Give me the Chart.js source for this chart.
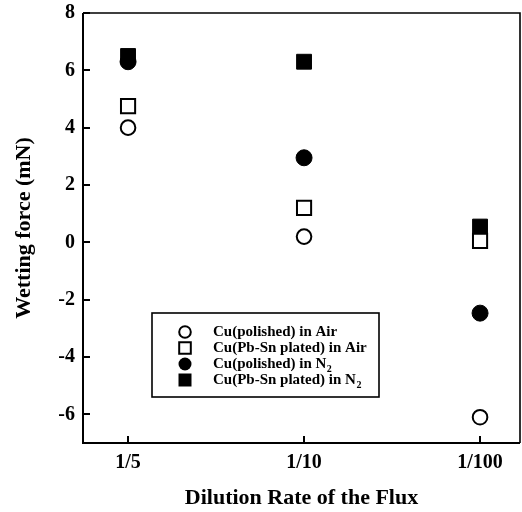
<!DOCTYPE html>
<html><head><meta charset="utf-8">
<script src="https://cdn.jsdelivr.net/npm/chart.js@4/dist/chart.umd.min.js"></script>
<style>html,body{margin:0;padding:0;background:#fff}#wrap{width:522px;height:512px}</style>
</head><body><div id="wrap"><canvas id="c" width="522" height="512"></canvas></div>
<script>
const categories = ['1/5', '1/10', '1/100'];
const yTicks = [8, 6, 4, 2, 0, -2, -4, -6];
const polishedAir = [4.0, 0.2, -6.1];
const platedAir = [4.75, 1.2, 0.05];
const polishedN2 = [6.3, 2.95, -2.47];
const platedN2 = [6.5, 6.3, 0.55];
const seriesLabels = ['Cu(polished) in Air', 'Cu(Pb-Sn plated) in Air', 'Cu(polished) in N\u2082', 'Cu(Pb-Sn plated) in N\u2082'];

const FONT = '"Liberation Serif", "Times New Roman", serif';
const toXY = arr => arr.map((v, i) => ({x: i, y: v}));

const frame = {
  id: 'frame',
  beforeDatasetsDraw(chart) {
    const {ctx, chartArea: a, scales} = chart;
    ctx.save();
    ctx.strokeStyle = '#000';
    ctx.lineWidth = 2;
    ctx.beginPath();
    ctx.moveTo(a.left, a.top); ctx.lineTo(a.left, a.bottom); ctx.lineTo(a.right, a.bottom);
    ctx.stroke();
    ctx.lineWidth = 1.6;
    ctx.beginPath();
    ctx.moveTo(a.left, a.top); ctx.lineTo(a.right, a.top); ctx.lineTo(a.right, a.bottom);
    ctx.stroke();
    ctx.lineWidth = 2;
    ctx.beginPath();
    scales.y.ticks.forEach(t => {
      const p = Math.round(scales.y.getPixelForValue(t.value));
      ctx.moveTo(a.left, p); ctx.lineTo(a.left + 7, p);
    });
    scales.x.ticks.forEach(t => {
      const p = Math.round(scales.x.getPixelForValue(t.value));
      ctx.moveTo(p, a.bottom); ctx.lineTo(p, a.bottom - 7);
    });
    ctx.stroke();
    ctx.restore();
  }
};

const legendBox = {
  id: 'legendBox',
  afterDraw(chart) {
    const {ctx} = chart;
    const L = 152, T = 313, R = 379, B = 397;
    ctx.save();
    ctx.fillStyle = '#fff';
    ctx.fillRect(L, T, R - L, B - T);
    ctx.strokeStyle = '#000';
    ctx.lineWidth = 1.6;
    ctx.strokeRect(L, T, R - L, B - T);
    const rows = [332, 348, 364, 380];
    chart.data.datasets.forEach((ds, i) => {
      const y = rows[i], x = 185;
      ctx.lineWidth = 2;
      ctx.strokeStyle = '#000';
      ctx.fillStyle = '#000';
      ctx.beginPath();
      if (ds.pointStyle === 'circle') {
        ctx.arc(x, y, ds.filled ? 6.5 : 5.8, 0, Math.PI * 2);
      } else {
        const s = ds.filled ? 6.5 : 5.8;
        ctx.rect(x - s, y - s, 2 * s, 2 * s);
      }
      if (ds.filled) ctx.fill(); else ctx.stroke();
      ctx.font = 'bold 15px ' + FONT;
      ctx.textBaseline = 'middle';
      ctx.textAlign = 'left';
      let txt = ds.label;
      let sub = '';
      if (txt.endsWith('\u2082')) { sub = '2'; txt = txt.slice(0, -1); }
      ctx.fillText(txt, 213, y);
      if (sub) {
        const w = ctx.measureText(txt).width;
        ctx.font = 'bold 10px ' + FONT;
        ctx.fillText(sub, 213 + w + 0.5, y + 5);
      }
    });
    ctx.restore();
  }
};

const mk = (label, arr, style, filled, r) => ({
  label, data: toXY(arr), pointStyle: style, filled,
  pointRadius: r, pointHoverRadius: r,
  pointBackgroundColor: filled ? '#000' : '#fff',
  pointBorderColor: '#000', pointBorderWidth: filled ? 1 : 2,
  showLine: false
});

new Chart(document.getElementById('c'), {
  type: 'scatter',
  data: {
    datasets: [
      mk(seriesLabels[0], polishedAir, 'circle', false, 7.3),
      mk(seriesLabels[1], platedAir, 'rect', false, 10),
      mk(seriesLabels[2], polishedN2, 'circle', true, 8),
      mk(seriesLabels[3], platedN2, 'rect', true, 10.5)
    ]
  },
  options: {
    responsive: false,
    animation: false,
    devicePixelRatio: 1,
    layout: {autoPadding: false, padding: {top: 13, right: 2, left: 0, bottom: 0}},
    plugins: {legend: {display: false}, tooltip: {enabled: false}},
    scales: {
      x: {
        type: 'linear', min: -0.256, max: 2.227,
        afterBuildTicks: s => { s.ticks = categories.map((_, i) => ({value: i})); },
        afterFit: s => { s.height = 69; s.paddingLeft = 0; s.paddingRight = 0; },
        grid: {display: false, drawTicks: false},
        border: {display: false},
        ticks: {callback: v => categories[v], color: '#000', font: {family: FONT, size: 20, weight: 'bold'}, padding: 8, maxRotation: 0},
        title: {display: true, text: 'Dilution Rate of the Flux', color: '#000', font: {family: FONT, size: 22, weight: 'bold'}, padding: {top: 0, bottom: 0}}
      },
      y: {
        type: 'linear', min: -7, max: 8,
        afterBuildTicks: s => { s.ticks = yTicks.map(v => ({value: v})); },
        afterFit: s => { s.width = 83; s.paddingTop = 0; s.paddingBottom = 0; },
        grid: {display: false, drawTicks: false},
        border: {display: false},
        ticks: {color: '#000', font: {family: FONT, size: 20, weight: 'bold'}, padding: 8},
        title: {display: true, text: 'Wetting force (mN)', color: '#000', font: {family: FONT, size: 22, weight: 'bold'}, padding: {top: 11, bottom: 0}}
      }
    }
  },
  plugins: [frame, legendBox]
});
</script>
</body></html>
